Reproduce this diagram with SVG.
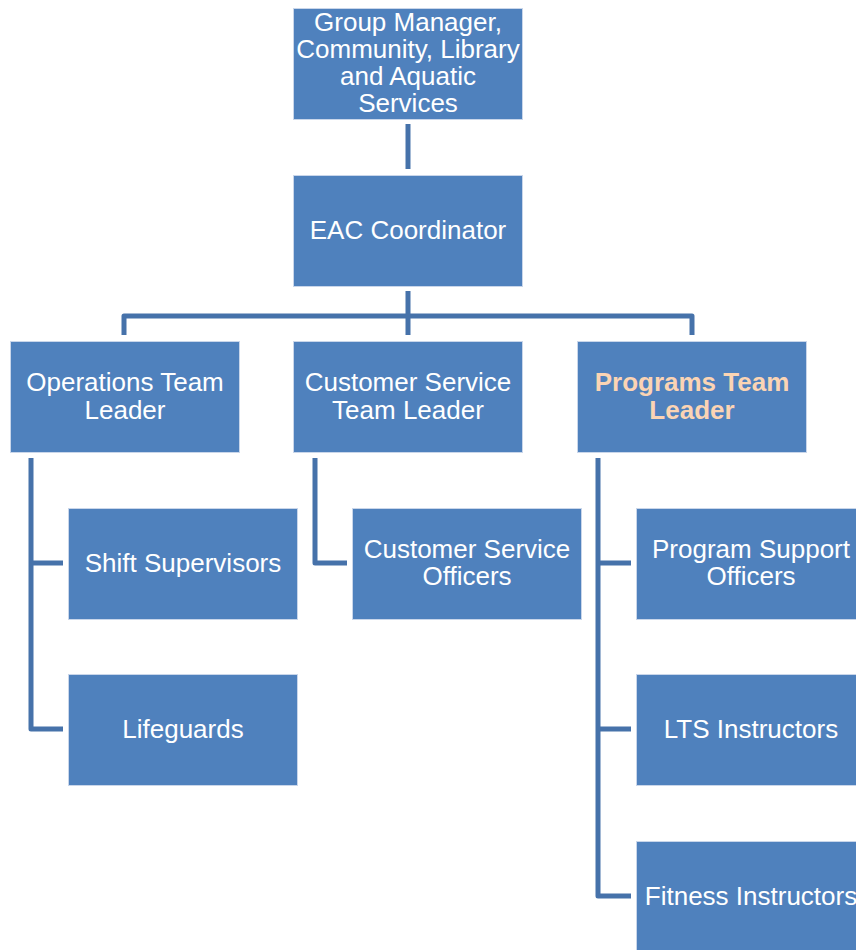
<svg xmlns="http://www.w3.org/2000/svg" width="856" height="950" viewBox="0 0 856 950">
<style>
.box{fill:#4F81BD;stroke:#C9D6EA;stroke-width:1}
.t{font-family:"Liberation Sans",Arial,sans-serif;font-size:26px;fill:#FFFFFF;text-anchor:middle}
.hl{fill:#FBD4B4;font-weight:bold}
.c{fill:none;stroke:#4672AA;stroke-width:5;stroke-linejoin:round}
</style>
<rect width="856" height="950" fill="#FFFFFF"/>
<g id="connectors">
<path class="c" d="M408 124V169"/>
<path class="c" d="M408 291V335M124 335V316H692V335"/>
<path class="c" d="M31 458V729H63M31 563H63"/>
<path class="c" d="M315 458V563H347"/>
<path class="c" d="M598 458V896H631M598 563H631M598 729H631"/>
</g>
<g id="group-manager">
<rect class="box" x="293.5" y="8.5" width="229" height="111"/>
<text class="t" x="408" y="31">Group Manager,</text>
<text class="t" x="408" y="58">Community, Library</text>
<text class="t" x="408" y="85">and Aquatic</text>
<text class="t" x="408" y="112">Services</text>
</g>
<g id="eac-coordinator">
<rect class="box" x="293.5" y="175.5" width="229" height="111"/>
<text class="t" x="408" y="239">EAC Coordinator</text>
</g>
<g id="operations-team-leader">
<rect class="box" x="10.5" y="341.5" width="229" height="111"/>
<text class="t" x="125" y="391">Operations Team</text>
<text class="t" x="125" y="419">Leader</text>
</g>
<g id="customer-service-team-leader">
<rect class="box" x="293.5" y="341.5" width="229" height="111"/>
<text class="t" x="408" y="391">Customer Service</text>
<text class="t" x="408" y="419">Team Leader</text>
</g>
<g id="programs-team-leader">
<rect class="box" x="577.5" y="341.5" width="229" height="111"/>
<text class="t hl" x="692" y="391">Programs Team</text>
<text class="t hl" x="692" y="419">Leader</text>
</g>
<g id="shift-supervisors">
<rect class="box" x="68.5" y="508.5" width="229" height="111"/>
<text class="t" x="183" y="572">Shift Supervisors</text>
</g>
<g id="lifeguards">
<rect class="box" x="68.5" y="674.5" width="229" height="111"/>
<text class="t" x="183" y="738">Lifeguards</text>
</g>
<g id="customer-service-officers">
<rect class="box" x="352.5" y="508.5" width="229" height="111"/>
<text class="t" x="467" y="558">Customer Service</text>
<text class="t" x="467" y="585">Officers</text>
</g>
<g id="program-support-officers">
<rect class="box" x="636.5" y="508.5" width="229" height="111"/>
<text class="t" x="751" y="558">Program Support</text>
<text class="t" x="751" y="585">Officers</text>
</g>
<g id="lts-instructors">
<rect class="box" x="636.5" y="674.5" width="229" height="111"/>
<text class="t" x="751" y="738">LTS Instructors</text>
</g>
<g id="fitness-instructors">
<rect class="box" x="636.5" y="841.5" width="229" height="111"/>
<text class="t" x="751" y="905">Fitness Instructors</text>
</g>
</svg>
